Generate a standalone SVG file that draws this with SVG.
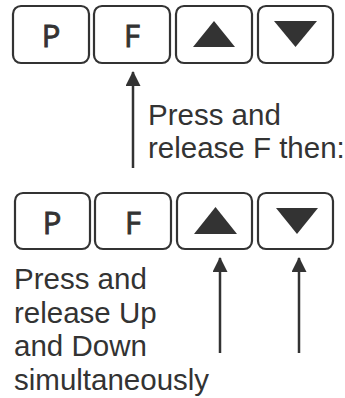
<svg xmlns="http://www.w3.org/2000/svg" width="345" height="398" viewBox="0 0 345 398">
<style>
.key{fill:#fff;stroke:#333;stroke-width:2.2}
.glyph{fill:#333}
.ltr{font-family:"Open Sans","Liberation Sans",sans-serif;font-size:31px;font-weight:400;fill:#333;stroke:#333;stroke-width:0.9;text-anchor:middle}
.lbl{font-family:"Liberation Sans",Arial,sans-serif;font-size:29.5px;fill:#333}
.conn{stroke:#333;stroke-width:2.5;fill:none}
</style>
<defs>
<marker id="ah" viewBox="0 0 15 15" markerWidth="15" markerHeight="15" refX="14" refY="7.5" orient="auto" markerUnits="userSpaceOnUse">
<path d="M0,0 L15,7.5 L0,15 Z" fill="#333"/>
</marker>
</defs>
<g id="top-P"><rect class="key" x="13" y="6" width="76" height="57" rx="8"/><text class="ltr" x="51" y="47">P</text></g>
<g id="top-F"><rect class="key" x="94" y="6" width="76" height="57" rx="8"/><text class="ltr" x="132" y="47">F</text></g>
<g id="top-Up"><rect class="key" x="176" y="6" width="76" height="57" rx="8"/><path class="glyph" d="M193,47 L214,21 L235,47 Z"/></g>
<g id="top-Down"><rect class="key" x="258" y="6" width="75" height="57" rx="8"/><path class="glyph" d="M274,21 L317,21 L295.5,47 Z"/></g>
<g id="bot-P"><rect class="key" x="15" y="193" width="75" height="56" rx="8"/><text class="ltr" x="52" y="234">P</text></g>
<g id="bot-F"><rect class="key" x="95" y="193" width="76" height="56" rx="8"/><text class="ltr" x="133" y="234">F</text></g>
<g id="bot-Up"><rect class="key" x="177" y="193" width="75" height="56" rx="8"/><path class="glyph" d="M194,234 L215.5,207 L237,234 Z"/></g>
<g id="bot-Down"><rect class="key" x="258" y="193" width="75" height="56" rx="8"/><path class="glyph" d="M276,208 L318,208 L297,234 Z"/></g>
<g id="labels">
<text class="lbl" x="148" y="125">Press and</text>
<text class="lbl" x="148" y="158">release F then:</text>
<text class="lbl" x="14" y="289">Press and</text>
<text class="lbl" x="14" y="322.5">release Up</text>
<text class="lbl" x="14" y="356">and Down</text>
<text class="lbl" x="14" y="389.5">simultaneously</text>
</g>
<g id="connectors">
<line class="conn" x1="133" y1="168" x2="133" y2="72" marker-end="url(#ah)"/>
<line class="conn" x1="220" y1="353" x2="220" y2="258" marker-end="url(#ah)"/>
<line class="conn" x1="299" y1="353" x2="299" y2="258" marker-end="url(#ah)"/>
</g>
</svg>
